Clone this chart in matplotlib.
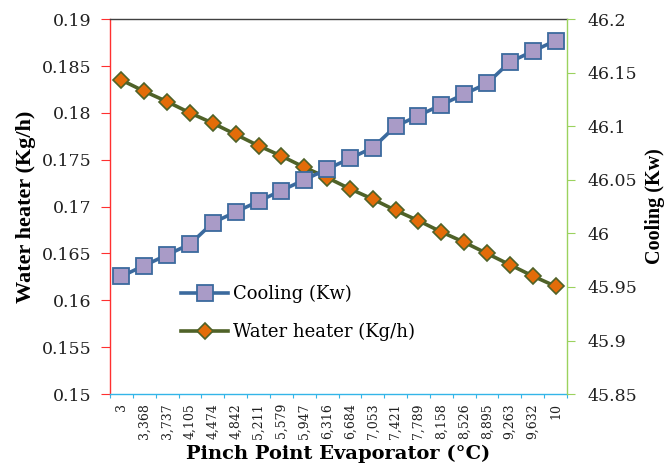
import matplotlib.pyplot as plt
from matplotlib.ticker import FixedLocator, NullFormatter

# data
pinch = ['3', '3,368', '3,737', '4,105', '4,474', '4,842', '5,211', '5,579', '5,947', '6,316',
         '6,684', '7,053', '7,421', '7,789', '8,158', '8,526', '8,895', '9,263', '9,632', '10']
water_heater = [0.1835, 0.1823, 0.1812, 0.1800, 0.1789, 0.1777, 0.1765, 0.1754, 0.1742, 0.1731,
                0.1719, 0.1708, 0.1696, 0.1685, 0.1673, 0.1662, 0.1650, 0.1638, 0.1626, 0.1615]
cooling = [45.96, 45.97, 45.98, 45.99, 46.01, 46.02, 46.03, 46.04, 46.05, 46.06,
           46.07, 46.08, 46.10, 46.11, 46.12, 46.13, 46.14, 46.16, 46.17, 46.18]

left_ticks = [0.15, 0.155, 0.16, 0.165, 0.17, 0.175, 0.18, 0.185, 0.19]
left_labels = ['0.15', '0.155', '0.16', '0.165', '0.17', '0.175', '0.18', '0.185', '0.19']
right_ticks = [45.85, 45.9, 45.95, 46.0, 46.05, 46.1, 46.15, 46.2]
right_labels = ['45.85', '45.9', '45.95', '46', '46.05', '46.1', '46.15', '46.2']

plt.rcParams['font.family'] = ['DejaVu Serif']
times = ['Liberation Serif', 'DejaVu Serif']

fig = plt.figure(figsize=(6.67, 4.68), dpi=100)
ax = fig.add_axes([0.165, 0.158, 0.685, 0.801])
ax2 = ax.twinx()

x = list(range(len(pinch)))

# water heater on the left axis
lw, = ax.plot(x, water_heater, color='#4F6228', lw=2.6, marker='D', ms=8,
              mfc='#E36C09', mec='#4F6228', mew=1.2, label='Water heater (Kg/h)')
# cooling on the right axis
lc, = ax2.plot(x, cooling, color='#3B6A9E', lw=2.6, marker='s', ms=11,
               mfc='#A99BC7', mec='#3B6A9E', mew=1.3, label='Cooling (Kw)')

ax.set_xlim(-0.5, len(pinch) - 0.5)
ax.set_ylim(0.15, 0.19)
ax2.set_ylim(45.85, 46.2)

ax.set_yticks(left_ticks)
ax.set_yticklabels(left_labels, fontsize=12.5, color='#202020')
ax2.set_yticks(right_ticks)
ax2.set_yticklabels(right_labels, fontsize=12.5, color='#202020')

# tick marks between categories, labels at category centres
ax.xaxis.set_major_locator(FixedLocator([i - 0.5 for i in range(len(pinch) + 1)]))
ax.xaxis.set_major_formatter(NullFormatter())
ax.set_xticks(x, minor=True)
ax.set_xticklabels(pinch, minor=True, rotation=90, fontsize=9, color='#202020')
ax.tick_params(axis='x', which='major', length=3, color='#33B5E8', direction='out')
ax.tick_params(axis='x', which='minor', length=0, pad=6.5)
ax.tick_params(axis='y', length=6.5, color='#FF3030', direction='out', pad=7)
ax2.tick_params(axis='y', length=6, color='#9BD25E', direction='out', pad=9)

for s in ['left', 'top', 'bottom']:
    ax2.spines[s].set_visible(False)
ax.spines['right'].set_visible(False)
ax.spines['left'].set_color('#FF3030')
ax.spines['bottom'].set_color('#33B5E8')
ax.spines['top'].set_color('#404040')
ax2.spines['right'].set_color('#9BD25E')
for s in ax.spines.values():
    s.set_linewidth(1.0)
ax2.spines['right'].set_linewidth(1.0)

ax.set_ylabel('Water heater (Kg/h)', fontsize=16, fontweight='bold', family=times, labelpad=4)
ax2.set_ylabel('Cooling (Kw)', fontsize=14.5, fontweight='bold', family=times, labelpad=5)
ax.set_xlabel('Pinch Point Evaporator (°C)', fontsize=14, fontweight='bold', labelpad=4.5)

ax2.legend([lc, lw], ['Cooling (Kw)', 'Water heater (Kg/h)'], loc='upper left',
           bbox_to_anchor=(0.12, 0.335), frameon=False, fontsize=13,
           handlelength=2.6, labelspacing=1.1, handletextpad=0.3)

fig.savefig('out.png', dpi=100)
